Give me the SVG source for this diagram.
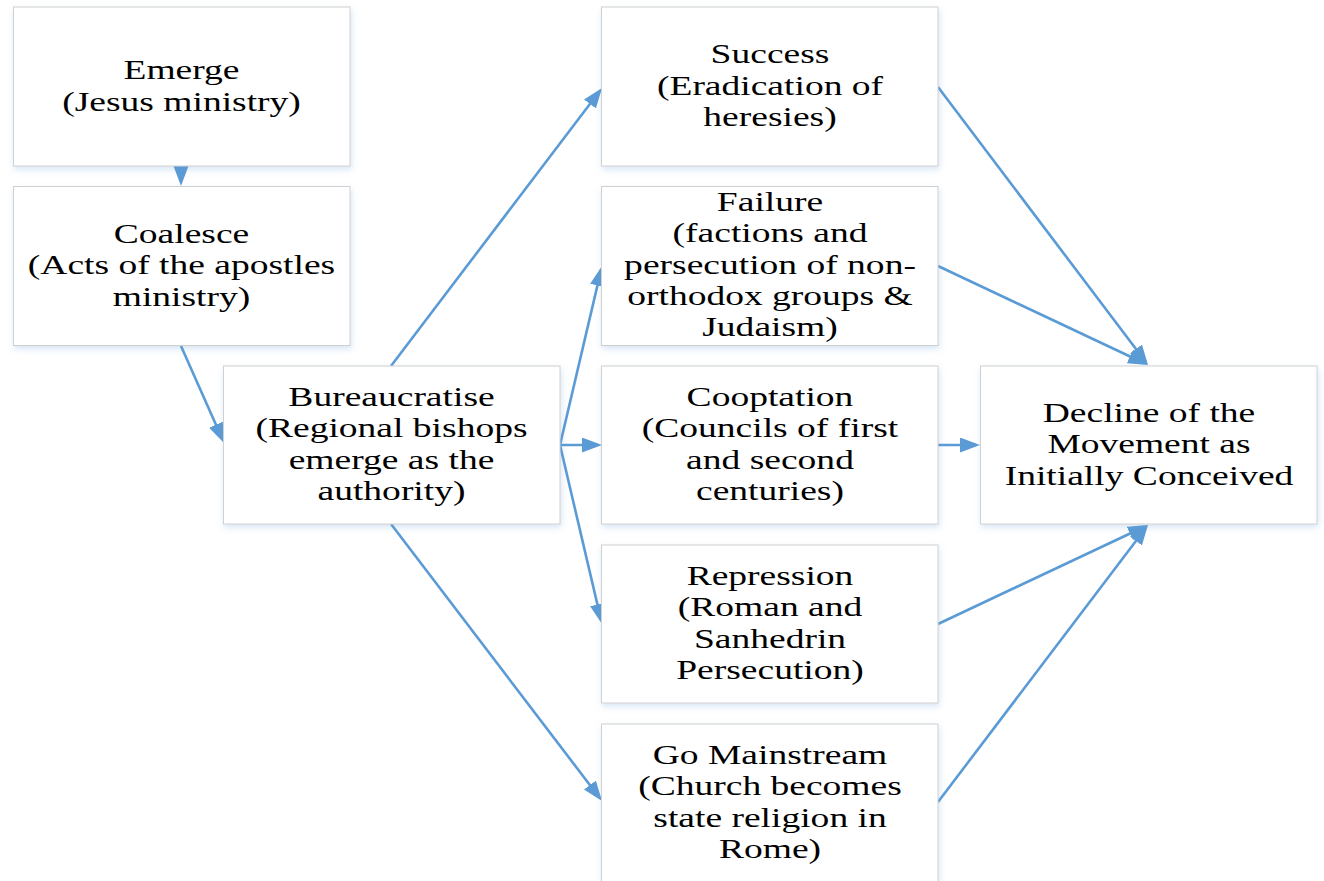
<svg xmlns="http://www.w3.org/2000/svg" width="1324" height="881" viewBox="0 0 1324 881">
  <style>
    .box { fill: #ffffff; stroke: #d0d0d0; stroke-width: 1; filter: url(#soft); }
    .lbl { font-family: "Liberation Serif", "Times New Roman", serif; font-size: 27px; fill: #000000; text-anchor: middle; }
    .link { stroke: #5b9bd5; stroke-width: 2.6; fill: none; marker-end: url(#head); }
  </style>
  <defs>
    <filter id="soft" x="-10%" y="-10%" width="120%" height="130%">
      <feDropShadow dx="1" dy="3" stdDeviation="3" flood-color="#5b9bd5" flood-opacity="0.25"/>
    </filter>
    <marker id="head" markerUnits="userSpaceOnUse" markerWidth="22" markerHeight="16" refX="16" refY="7.5" orient="auto">
      <path d="M0,0 L20,7.5 L0,15 z" fill="#5b9bd5"/>
    </marker>
  </defs>
  <rect width="1324" height="881" fill="#ffffff"/>

  <!-- connectors -->
  <g id="connectors">
    <line class="link" x1="181" y1="166" x2="181" y2="182"/>
    <line class="link" x1="181" y1="346" x2="222.4" y2="439.3"/>
    <line class="link" x1="391" y1="366" x2="599.6" y2="91.2"/>
    <line class="link" x1="391" y1="524" x2="599.6" y2="797.8"/>
    <line class="link" x1="560" y1="445" x2="601.1" y2="269.9"/>
    <line class="link" x1="560" y1="445" x2="598" y2="445"/>
    <line class="link" x1="560" y1="445" x2="601.1" y2="620.1"/>
    <line class="link" x1="938" y1="87" x2="1145.6" y2="361.8"/>
    <line class="link" x1="938" y1="266" x2="1144.4" y2="363.3"/>
    <line class="link" x1="938" y1="445" x2="976" y2="445"/>
    <line class="link" x1="938" y1="624" x2="1144.4" y2="526.7"/>
    <line class="link" x1="938" y1="802" x2="1145.6" y2="528.2"/>
  </g>

  <!-- nodes -->
  <g id="emerge">
    <rect class="box" x="13.5" y="7" width="336.5" height="159"/>
    <g transform="translate(181.5,0) scale(1.39,1)">
      <text class="lbl" x="0" y="79.5">Emerge</text>
      <text class="lbl" x="0" y="110.8">(Jesus ministry)</text>
    </g>
  </g>

  <g id="coalesce">
    <rect class="box" x="13.5" y="186.5" width="336.5" height="159"/>
    <g transform="translate(181.5,0) scale(1.39,1)">
      <text class="lbl" x="0" y="243">Coalesce</text>
      <text class="lbl" x="0" y="274.3">(Acts of the apostles</text>
      <text class="lbl" x="0" y="305.6">ministry)</text>
    </g>
  </g>

  <g id="bureaucratise">
    <rect class="box" x="223.5" y="366" width="336.5" height="158"/>
    <g transform="translate(391.5,0) scale(1.39,1)">
      <text class="lbl" x="0" y="406">Bureaucratise</text>
      <text class="lbl" x="0" y="437.3">(Regional bishops</text>
      <text class="lbl" x="0" y="468.6">emerge as the</text>
      <text class="lbl" x="0" y="499.9">authority)</text>
    </g>
  </g>

  <g id="success">
    <rect class="box" x="601.5" y="7" width="336.5" height="159"/>
    <g transform="translate(770,0) scale(1.39,1)">
      <text class="lbl" x="0" y="63.5">Success</text>
      <text class="lbl" x="0" y="94.8">(Eradication of</text>
      <text class="lbl" x="0" y="126.1">heresies)</text>
    </g>
  </g>

  <g id="failure">
    <rect class="box" x="601.5" y="186.5" width="336.5" height="159"/>
    <g transform="translate(770,0) scale(1.39,1)">
      <text class="lbl" x="0" y="211">Failure</text>
      <text class="lbl" x="0" y="242.3">(factions and</text>
      <text class="lbl" x="0" y="273.6">persecution of non-</text>
      <text class="lbl" x="0" y="304.9">orthodox groups &amp;</text>
      <text class="lbl" x="0" y="336.2">Judaism)</text>
    </g>
  </g>

  <g id="cooptation">
    <rect class="box" x="601.5" y="366" width="336.5" height="158"/>
    <g transform="translate(770,0) scale(1.39,1)">
      <text class="lbl" x="0" y="406">Cooptation</text>
      <text class="lbl" x="0" y="437.3">(Councils of first</text>
      <text class="lbl" x="0" y="468.6">and second</text>
      <text class="lbl" x="0" y="499.9">centuries)</text>
    </g>
  </g>

  <g id="repression">
    <rect class="box" x="601.5" y="545" width="336.5" height="158"/>
    <g transform="translate(770,0) scale(1.39,1)">
      <text class="lbl" x="0" y="585">Repression</text>
      <text class="lbl" x="0" y="616.3">(Roman and</text>
      <text class="lbl" x="0" y="647.6">Sanhedrin</text>
      <text class="lbl" x="0" y="678.9">Persecution)</text>
    </g>
  </g>

  <g id="go-mainstream">
    <rect class="box" x="601.5" y="724" width="336.5" height="159"/>
    <g transform="translate(770,0) scale(1.39,1)">
      <text class="lbl" x="0" y="764">Go Mainstream</text>
      <text class="lbl" x="0" y="795.3">(Church becomes</text>
      <text class="lbl" x="0" y="826.6">state religion in</text>
      <text class="lbl" x="0" y="857.9">Rome)</text>
    </g>
  </g>

  <g id="decline">
    <rect class="box" x="980.5" y="366" width="336.5" height="158"/>
    <g transform="translate(1149,0) scale(1.39,1)">
      <text class="lbl" x="0" y="422">Decline of the</text>
      <text class="lbl" x="0" y="453.3">Movement as</text>
      <text class="lbl" x="0" y="484.6">Initially Conceived</text>
    </g>
  </g>
</svg>
